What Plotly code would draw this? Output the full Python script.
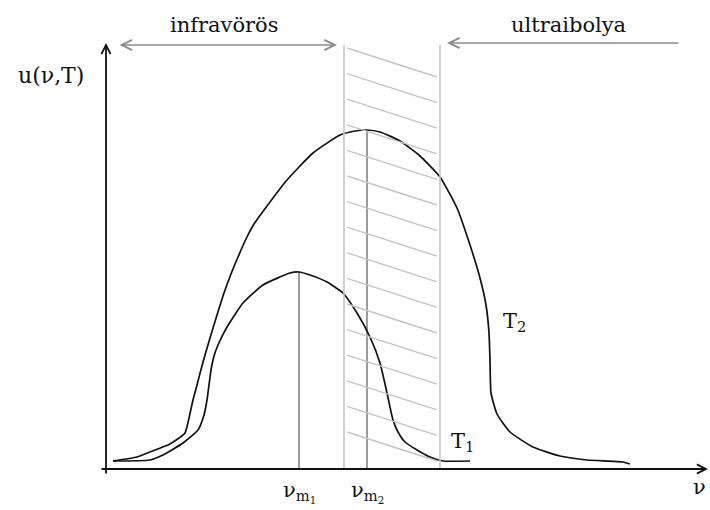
import plotly.graph_objects as go

# ---- data (nu, u) ----
T2_nu = [0.07, 0.31, 0.44, 0.64, 0.79, 0.83, 0.87, 0.91, 0.97, 1.04, 1.11, 1.18, 1.25,
         1.32, 1.40, 1.48, 1.61, 1.81, 2.07, 2.34, 2.49, 2.61, 2.74, 2.94, 3.14, 3.34,
         3.51, 3.64, 3.74, 3.80, 3.83, 3.84, 3.85, 3.91, 4.04, 4.27, 4.54, 4.81, 5.17, 5.24]
T2_u = [0.08, 0.12, 0.17, 0.25, 0.36, 0.51, 0.69, 0.84, 1.07, 1.31, 1.54, 1.76, 1.95,
        2.12, 2.30, 2.45, 2.63, 2.89, 3.16, 3.34, 3.38, 3.39, 3.37, 3.28, 3.13, 2.92,
        2.61, 2.24, 1.91, 1.64, 1.36, 1.09, 0.76, 0.55, 0.37, 0.22, 0.13, 0.09, 0.07, 0.05]

T1_nu = [0.07, 0.44, 0.57, 0.77, 0.92, 0.98, 1.01, 1.03, 1.05, 1.08, 1.12, 1.21, 1.37,
         1.57, 1.84, 1.93, 2.04, 2.21, 2.37, 2.51, 2.64, 2.74, 2.81, 2.87, 2.92, 2.99,
         3.11, 3.24, 3.37, 3.64]
T1_u = [0.08, 0.09, 0.14, 0.26, 0.39, 0.54, 0.69, 0.84, 0.99, 1.13, 1.24, 1.42, 1.66,
        1.84, 1.96, 1.97, 1.94, 1.87, 1.76, 1.56, 1.32, 1.06, 0.76, 0.49, 0.37, 0.27,
        0.19, 0.12, 0.08, 0.08]

visible_band = [2.38, 3.34]     # nu range of the visible light (hatched)
infra_range = [0.12, 2.31]      # infravörös arrow
ultra_range = [3.41, 5.74]      # ultraibolya arrow
region_labels = ["infravörös", "ultraibolya"]
curve_labels = ["T<sub>1</sub>", "T<sub>2</sub>"]
peak_labels = ["ν<sub>m<sub>1</sub></sub>", "ν<sub>m<sub>2</sub></sub>"]

X_RANGE = [-1.06, 6.04]
Y_RANGE = [-0.41, 4.69]
TOP = 4.24

BLACK = "#111111"
GREY = "#8a8a8a"
LIGHT = "#c4c4c4"
FONT = dict(family="DejaVu Serif", size=21, color=BLACK)

fig = go.Figure()

# hatched band (visible light)
lo, hi = visible_band
shapes = []
for xv in visible_band:
    shapes.append(dict(type="line", xref="x", yref="y", x0=xv, x1=xv, y0=0, y1=TOP,
                       line=dict(color=LIGHT, width=1.6)))
n_hatch = 16
for k in range(n_hatch):
    ys = TOP - 0.03 - 0.256 * k
    shapes.append(dict(type="line", xref="x", yref="y", x0=lo + 0.03, x1=hi - 0.03,
                       y0=ys, y1=ys - 0.29, line=dict(color=LIGHT, width=1.4)))

# peak markers
for nu, u in ((T1_nu, T1_u), (T2_nu, T2_u)):
    i = u.index(max(u))
    fig.add_trace(go.Scatter(x=[nu[i], nu[i]], y=[0, u[i]], mode="lines",
                             line=dict(color="#7a7a7a", width=1.5),
                             hoverinfo="skip", showlegend=False))

# curves
for nu, u in ((T1_nu, T1_u), (T2_nu, T2_u)):
    fig.add_trace(go.Scatter(x=nu, y=u, mode="lines",
                             line=dict(color=BLACK, width=1.7, shape="spline", smoothing=0.5),
                             showlegend=False))

ann = []
# axes as arrows
ann.append(dict(x=0, y=4.26, ax=0, ay=-0.06, xref="x", yref="y", axref="x", ayref="y",
                text="", showarrow=True, arrowhead=5, arrowsize=1.0, arrowwidth=1.8,
                arrowcolor=BLACK, standoff=0))
ann.append(dict(x=6.02, y=0, ax=-0.06, ay=0, xref="x", yref="y", axref="x", ayref="y",
                text="", showarrow=True, arrowhead=5, arrowsize=1.0, arrowwidth=1.8,
                arrowcolor=BLACK, standoff=0))
# region arrows
ann.append(dict(x=infra_range[1], y=TOP, ax=infra_range[0], ay=TOP, xref="x", yref="y",
                axref="x", ayref="y", text="", showarrow=True, arrowhead=5,
                startarrowhead=5, arrowside="end+start", arrowsize=1.2, startarrowsize=1.2,
                arrowwidth=1.7, arrowcolor=GREY, standoff=0, startstandoff=0))
ann.append(dict(x=ultra_range[0], y=TOP + 0.02, ax=ultra_range[1], ay=TOP + 0.02, xref="x",
                yref="y", axref="x", ayref="y", text="", showarrow=True, arrowhead=5,
                arrowsize=1.2, arrowwidth=1.7, arrowcolor=GREY, standoff=0))

ann.append(dict(x=sum(infra_range) / 2 - 0.03, y=4.44, xref="x", yref="y", text=region_labels[0],
                showarrow=False, font=FONT))
ann.append(dict(x=sum(ultra_range) / 2 + 0.05, y=4.44, xref="x", yref="y", text=region_labels[1],
                showarrow=False, font=FONT))
ann.append(dict(x=-0.55, y=3.94, xref="x", yref="y", text="u(ν,T)", showarrow=False,
                font=dict(family="DejaVu Serif", size=22, color=BLACK)))
ann.append(dict(x=5.85, y=-0.18, xref="x", yref="y", text="ν", showarrow=False,
                xanchor="left", font=FONT))
ann.append(dict(x=3.43, y=0.27, xref="x", yref="y", text=curve_labels[0], showarrow=False,
                xanchor="left", font=FONT))
ann.append(dict(x=3.95, y=1.47, xref="x", yref="y", text=curve_labels[1], showarrow=False,
                xanchor="left", font=FONT))
for lab, nu, u in ((peak_labels[0], T1_nu, T1_u), (peak_labels[1], T2_nu, T2_u)):
    i = u.index(max(u))
    ann.append(dict(x=nu[i] - 0.18, y=-0.07, xref="x", yref="y", text=lab, showarrow=False,
                    xanchor="left", yanchor="top", font=FONT))

fig.update_layout(
    width=710, height=510,
    margin=dict(l=0, r=0, t=0, b=0),
    paper_bgcolor="white", plot_bgcolor="white",
    xaxis=dict(range=X_RANGE, visible=False, fixedrange=True),
    yaxis=dict(range=Y_RANGE, visible=False, fixedrange=True),
    shapes=shapes, annotations=ann, showlegend=False,
)

fig.write_html("out.html", config={"displayModeBar": False},
               post_script="document.body.style.margin='0px';document.body.style.overflow='hidden';")
